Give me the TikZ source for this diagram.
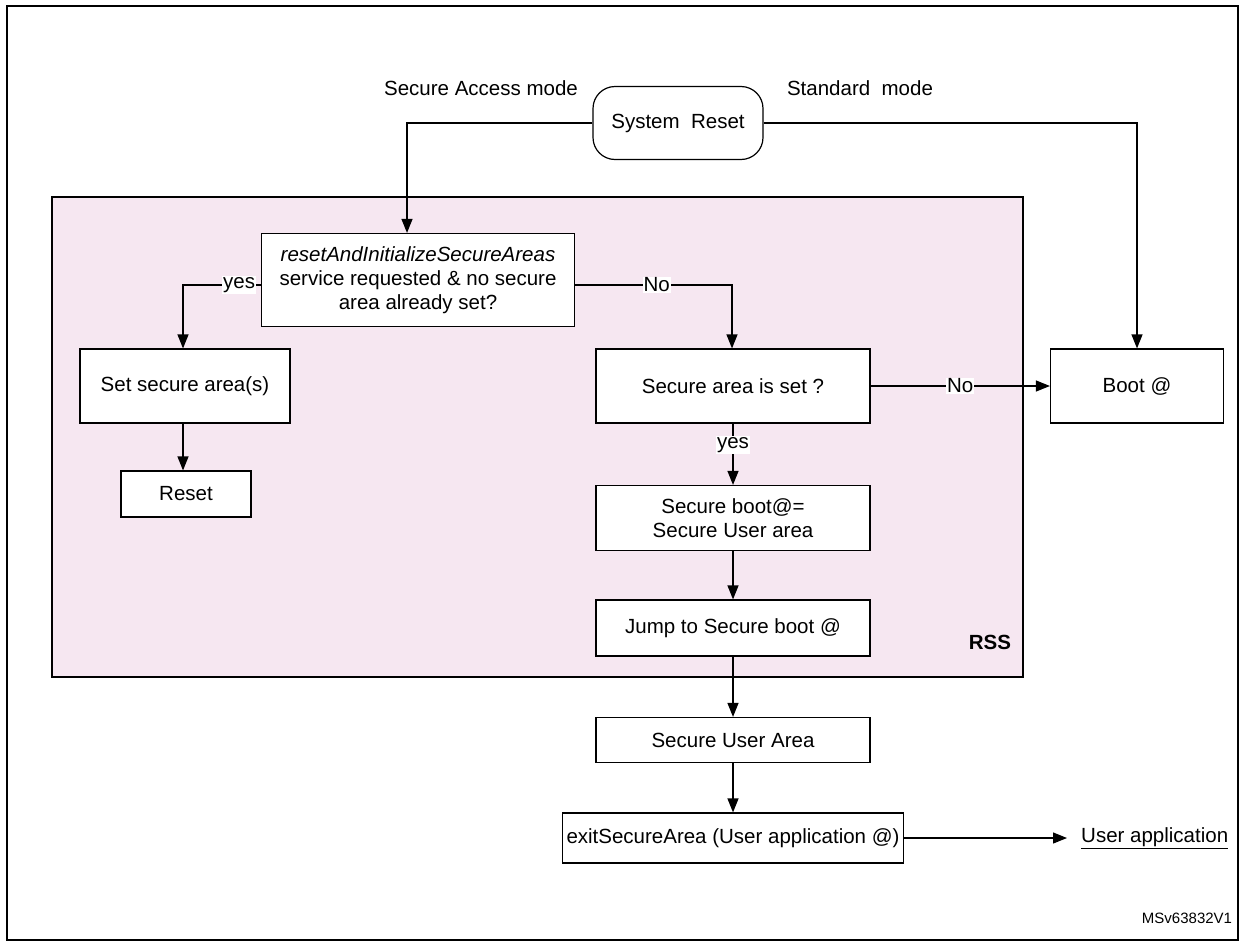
\documentclass[tikz,border=0pt]{standalone}
\usepackage{fontspec}
\setmainfont{Liberation Sans}
\usetikzlibrary{arrows.meta}
\definecolor{rsspink}{RGB}{246,231,241}
\begin{document}
\begin{tikzpicture}[x=1pt,y=-1pt,
  every node/.style={font=\fontsize{20.5}{24}\selectfont},
  box/.style={draw,line width=1.2pt,fill=white,align=center,inner sep=0pt},
  conn/.style={line width=1.2pt},
  arr/.style={conn,-{Triangle[length=14pt,width=11pt]}},
  lbl/.style={fill=white,inner sep=1pt}]
\useasboundingbox (0,0) rectangle (1239,945);
\draw[line width=1.5pt] (7,6) rectangle (1238,940);
\draw[line width=1.2pt,fill=rsspink] (52,197) rectangle (1023,677);
\node[font=\fontsize{20.5}{24}\selectfont\bfseries] (rss) at (990,642) {RSS};

\node[box,rounded corners=22pt,minimum width=170pt,minimum height=73pt] (sys) at (678,123) {System\ \ Reset};
\node (sam) at (481,88) {Secure Access mode};
\node (stm) at (860,88) {Standard\ \ mode};

\node[box,minimum width=313pt,minimum height=93pt] (ra) at (418,280) {\textit{resetAndInitializeSecureAreas}\\service requested \& no secure\\area already set?};
\node[box,minimum width=210pt,minimum height=74pt] (ssa) at (185,386) {Set secure area(s)};
\node[box,minimum width=130pt,minimum height=46pt] (rst) at (186,494) {Reset};
\node[box,minimum width=274pt,minimum height=74pt] (sais) at (733,386) {Secure area is set ?};
\node[box,minimum width=173pt,minimum height=74pt] (boot) at (1137,386) {Boot @};
\node[box,minimum width=274pt,minimum height=65pt] (sb) at (733,518) {Secure boot@=\\Secure User area};
\node[box,minimum width=274pt,minimum height=56pt] (jmp) at (733,628) {Jump to Secure boot @};
\node[box,minimum width=274pt,minimum height=45pt] (sua) at (733,740) {Secure User Area};
\node[box,minimum width=341pt,minimum height=50pt] (exit) at (733,838) {exitSecureArea (User application @)};
\node[anchor=west,inner sep=0pt] (ua) at (1081,838) {\underline{User application}};
\node[font=\fontsize{15}{18}\selectfont] (ver) at (1187,918) {MSv63832V1};

\draw[arr] (sys.west) -| (ra.north -| 407,0);
\draw[arr] (sys.east) -| (boot.north);
\draw[arr] (ra.west |- 0,285) -| node[lbl,pos=0.14] {yes} (ssa.north -| 183,0);
\draw[arr] (ra.east |- 0,285) -| node[lbl,pos=0.26] {No} (sais.north -| 732,0);
\draw[arr] (ssa.south -| 183,0) -- (rst.north -| 183,0);
\draw[arr] (sais.east) -- node[lbl,pos=0.5] {No} (boot.west);
\draw[arr] (sais.south) -- node[lbl,pos=0.35] {yes} (sb.north);
\draw[arr] (sb) -- (jmp);
\draw[arr] (jmp) -- (sua);
\draw[arr] (sua) -- (exit);
\draw[arr] (exit.east) -- ([xshift=-14pt]ua.west);
\end{tikzpicture}
\end{document}
